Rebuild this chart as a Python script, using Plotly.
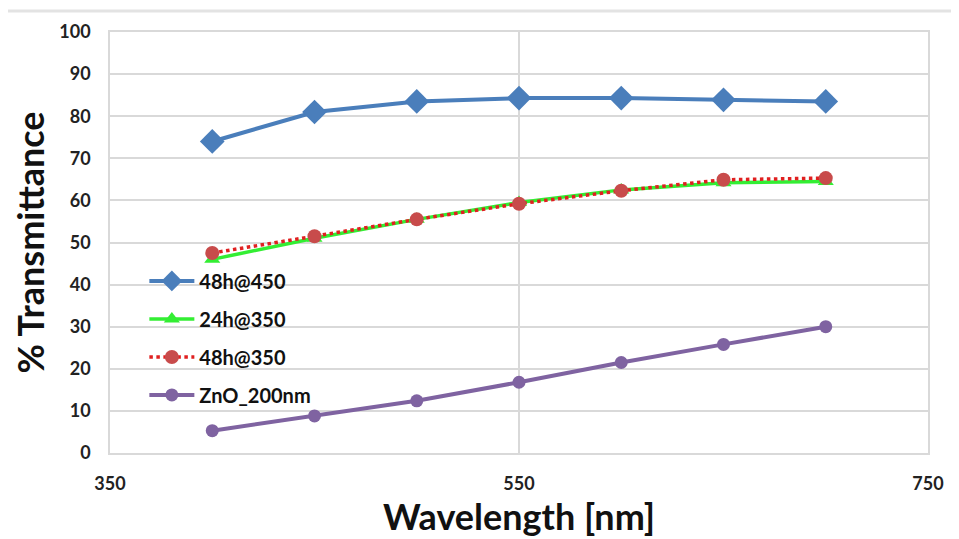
import plotly.graph_objects as go

wavelength = [400, 450, 500, 550, 600, 650, 700]
t_48h_450 = [74.0, 81.0, 83.5, 84.3, 84.3, 83.9, 83.5]
t_24h_350 = [46.0, 51.0, 55.5, 59.5, 62.5, 64.2, 64.5]
t_48h_350 = [47.5, 51.5, 55.5, 59.2, 62.3, 64.9, 65.3]
t_zno_200 = [5.3, 8.8, 12.4, 16.8, 21.5, 25.8, 30.0]

x_ticks = [350, 550, 750]
y_ticks = list(range(0, 101, 10))

FONT = "Lato"

fig = go.Figure()
fig.add_trace(go.Scatter(
    x=wavelength, y=t_48h_450, name="48h@450", mode="lines+markers",
    line=dict(color="#4A7EBB", width=4),
    marker=dict(symbol="diamond", size=19, color="#4A7EBB"),
    legendgroup="a"))
fig.add_trace(go.Scatter(
    x=wavelength, y=t_24h_350, name="24h@350", mode="lines+markers",
    line=dict(color="#33EE33", width=3.5),
    marker=dict(symbol="triangle-up", size=14, color="#33EE33"),
    legendgroup="b"))
fig.add_trace(go.Scatter(
    x=wavelength, y=t_48h_350, name="48h@350", mode="lines+markers",
    line=dict(color="#E02020", width=3.5, dash="dot"),
    marker=dict(symbol="circle", size=14, color="#C84B4B"),
    legendgroup="c"))
fig.add_trace(go.Scatter(
    x=wavelength, y=t_zno_200, name="ZnO_200nm", mode="lines+markers",
    line=dict(color="#7F63A1", width=4),
    marker=dict(symbol="circle", size=13, color="#7F63A1"),
    legendgroup="d"))

fig.update_layout(
    width=951, height=531,
    margin=dict(l=102, r=31, t=21, b=86),
    paper_bgcolor="white", plot_bgcolor="white",
    font=dict(family=FONT, color="#1a1a1a"),
    legend=dict(
        x=0.042, y=0.455, xanchor="left", yanchor="top",
        bgcolor="rgba(255,255,255,0)",
        font=dict(family=FONT, size=20, color="#111", weight="bold"),
        tracegroupgap=9, itemwidth=45,
    ),
    xaxis=dict(
        range=[350, 750], tickvals=x_ticks, ticks="",
        showgrid=True, gridcolor="#D9D9D9", gridwidth=1.5,
        showline=True, linecolor="#D9D9D9", linewidth=1.5, mirror=True,
        zeroline=False, ticklabelstandoff=14,
        tickfont=dict(family=FONT, size=18, color="#222", weight="bold"),
        title=dict(text="<b>Wavelength [nm]</b>", font=dict(family=FONT, size=36, color="#111"), standoff=4),
    ),
    yaxis=dict(
        range=[0, 100], tickvals=y_ticks, ticks="",
        showgrid=True, gridcolor="#D9D9D9", gridwidth=1.5,
        showline=True, linecolor="#D9D9D9", linewidth=1.5, mirror=True,
        zeroline=False, ticklabelstandoff=14,
        tickfont=dict(family=FONT, size=18, color="#222", weight="bold"),
        title=dict(text="<b>% Transmittance</b>", font=dict(family=FONT, size=36, color="#111"), standoff=10),
    ),
    shapes=[dict(type="line", xref="paper", yref="paper",
                 x0=-0.125, x1=1.04, y0=1.05, y1=1.05,
                 line=dict(color="#E3E3E3", width=3))],
)

fig.write_html("out.html")
